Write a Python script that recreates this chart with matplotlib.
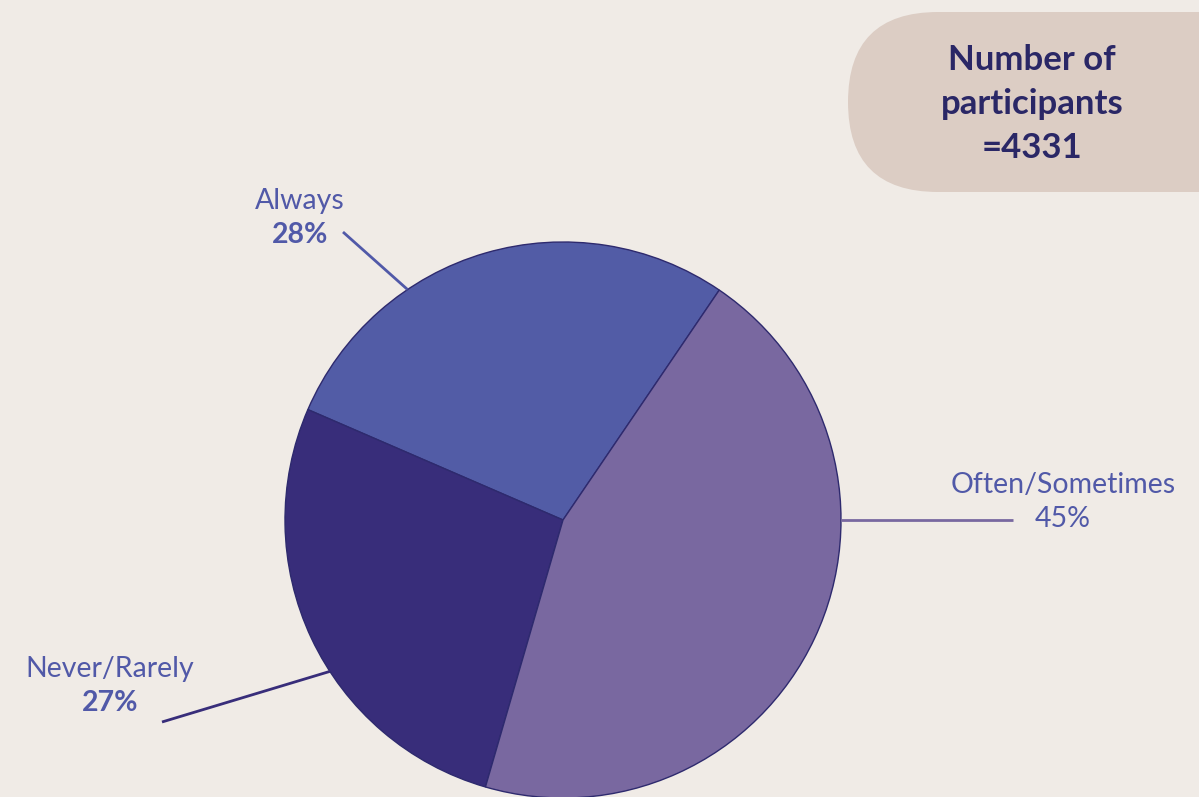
import matplotlib.pyplot as plt
from matplotlib.patches import FancyBboxPatch
import numpy as np

plt.rcParams['font.family'] = ['Lato', 'DejaVu Sans']

labels = ["Always", "Never/Rarely", "Often/Sometimes"]
values = [28, 27, 45]
colors = ["#525ca6", "#382d7a", "#7968a0"]
participants = 4331

W, H = 1199, 797
fig = plt.figure(figsize=(W / 100, H / 100), dpi=100)
fig.patch.set_facecolor("#f0ebe6")
ax = fig.add_axes([0, 0, 1, 1])

cx, cy, r = 563, H - 520, 278
wedges, _ = ax.pie(values, colors=colors, startangle=55.8, counterclock=True,
                   center=(cx, cy), radius=r, frame=True,
                   wedgeprops=dict(edgecolor="#2e2a6e", linewidth=1.0))
ax.set_xlim(0, W)
ax.set_ylim(0, H)
ax.set_aspect("equal")
ax.axis("off")

# label layout: angle on the wedge edge, text position, line end
label_blue = "#5159a8"
layout = [
    (124, (300, H - 218), (343, H - 232), label_blue),
    (213, (110, H - 686), (162, H - 722), "#382d7a"),
    (0, (1063, H - 502), (1013, H - 520), "#7968a0"),
]
for i, (ang, tpos, lend, lc) in enumerate(layout):
    a = np.deg2rad(ang)
    ex, ey = cx + r * np.cos(a), cy + r * np.sin(a)
    ax.plot([ex, lend[0]], [ey, lend[1]], color=lc, lw=2, solid_capstyle="butt")
    ax.text(tpos[0], tpos[1] + 17, labels[i], ha="center", va="center",
            fontsize=20.5, color=label_blue)
    ax.text(tpos[0], tpos[1] - 17, f"{values[i]}%", ha="center", va="center",
            fontsize=20.5, color=label_blue,
            fontweight="normal" if i == 2 else "bold")

# participants box
box = FancyBboxPatch((848 + 90, H - 192 + 90), 442 - 180, 0,
                     boxstyle="round,pad=90", facecolor="#dccdc4",
                     edgecolor="none")
ax.add_patch(box)
ax.text(1032, H - 104, f"Number of\nparticipants\n={participants}",
        ha="center", va="center", fontsize=25, fontweight="bold",
        color="#2a2766", linespacing=1.48)

fig.savefig("out.png", dpi=100, facecolor=fig.get_facecolor())
